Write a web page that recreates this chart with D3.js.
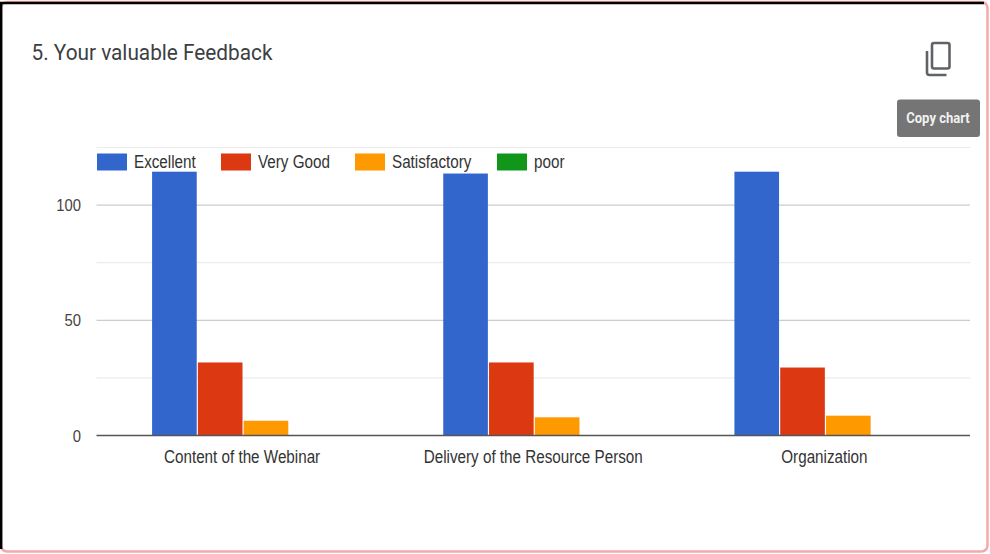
<!DOCTYPE html>
<html>
<head>
<meta charset="utf-8">
<script src="https://cdn.jsdelivr.net/npm/d3@7"></script>
<style>
  html, body { margin: 0; padding: 0; background: #fff; overflow: hidden; }
</style>
</head>
<body>
<div id="chart"></div>
<script>
// Values
var categories = ["Content of the Webinar", "Delivery of the Resource Person", "Organization"];
var seriesNames = ["Excellent", "Very Good", "Satisfactory", "poor"];
var seriesColors = ["#3366cc", "#dc3912", "#ff9900", "#109618"];
var excellent = [114.5, 113.7, 114.5];
var veryGood = [31.7, 31.7, 29.5];
var satisfactory = [6.4, 7.9, 8.6];
var poor = [0, 0, 0];
var seriesValues = [excellent, veryGood, satisfactory, poor];
var majorTicks = [0, 50, 100];
var minorTicks = [25, 75, 125];

function init() {
  var w = 990;
  var h = 554;
  var left = 96.5;
  var right = 970;
  var y0 = 435.5;
  // The screenshot squeezed its text sideways, so labels are drawn narrower than tall
  var squeeze = 0.87;

  var svg = d3.select("#chart")
    .append("svg")
    .attr("width", w)
    .attr("height", h)
    .style("display", "block");

  // Screenshot frame: pink on the right and bottom, black on the top and left
  svg.append("rect")
    .attr("x", 1).attr("y", 2)
    .attr("width", 986.5).attr("height", 549.5)
    .attr("rx", 6)
    .attr("fill", "#fff")
    .attr("stroke", "#f4a9a9")
    .attr("stroke-width", 2.5);
  svg.append("path")
    .attr("d", "M1.2,549V3H984")
    .attr("fill", "none")
    .attr("stroke", "#000")
    .attr("stroke-width", 2.4);

  // Scales
  var xScale = d3.scaleBand()
    .domain(categories)
    .range([left, right]);
  var xInner = d3.scaleBand()
    .domain(seriesNames)
    .range([0, 182])
    .paddingInner(0.025);
  var yScale = d3.scaleLinear()
    .domain([0, 125])
    .range([y0, 147.5]);

  // Gridlines
  svg.append("g").selectAll("line")
    .data(minorTicks)
    .enter()
    .append("line")
    .attr("x1", left).attr("x2", right)
    .attr("y1", function (d) { return yScale(d); })
    .attr("y2", function (d) { return yScale(d); })
    .attr("stroke", "#ebebeb")
    .attr("stroke-width", 1.2);
  svg.append("g").selectAll("line")
    .data(majorTicks.slice(1))
    .enter()
    .append("line")
    .attr("x1", left).attr("x2", right)
    .attr("y1", function (d) { return yScale(d); })
    .attr("y2", function (d) { return yScale(d); })
    .attr("stroke", "#cccccc")
    .attr("stroke-width", 1.2);

  // Bars
  var groupOffset = (xScale.bandwidth() - 182) / 2 + 1;
  seriesNames.forEach(function (name, i) {
    svg.append("g").selectAll("rect")
      .data(seriesValues[i])
      .enter()
      .append("rect")
      .attr("x", function (d, j) { return xScale(categories[j]) + groupOffset + xInner(name); })
      .attr("y", function (d) { return yScale(d); })
      .attr("width", xInner.bandwidth())
      .attr("height", function (d) { return y0 - yScale(d); })
      .attr("fill", seriesColors[i]);
  });

  // Baseline
  svg.append("line")
    .attr("x1", left).attr("x2", right)
    .attr("y1", y0).attr("y2", y0)
    .attr("stroke", "#555")
    .attr("stroke-width", 1.5);

  // Y tick labels
  svg.append("g").selectAll("text")
    .data(majorTicks)
    .enter()
    .append("text")
    .attr("transform", function (d) { return "translate(81," + (yScale(d) + 6) + ") scale(" + squeeze + ",1)"; })
    .attr("text-anchor", "end")
    .style("font-family", "'Liberation Sans', sans-serif")
    .style("font-size", "17px")
    .attr("fill", "#444")
    .text(function (d) { return d; });

  // X labels
  svg.append("g").selectAll("text")
    .data(categories)
    .enter()
    .append("text")
    .attr("transform", function (d) {
      return "translate(" + (xScale(d) + xScale.bandwidth() / 2) + ",462.5) scale(" + squeeze + ",1)";
    })
    .attr("text-anchor", "middle")
    .style("font-family", "'Liberation Sans', sans-serif")
    .style("font-size", "17.5px")
    .attr("fill", "#333")
    .text(function (d) { return d; });

  // Legend
  var legendX = [97, 221, 355, 497];
  var legend = svg.append("g").selectAll("g")
    .data(seriesNames)
    .enter()
    .append("g")
    .attr("transform", function (d, i) { return "translate(" + legendX[i] + ",153.5)"; });
  legend.append("rect")
    .attr("width", 30)
    .attr("height", 17)
    .attr("fill", function (d, i) { return seriesColors[i]; });
  legend.append("text")
    .attr("transform", "translate(37,14) scale(" + squeeze + ",1)")
    .style("font-family", "'Liberation Sans', sans-serif")
    .style("font-size", "17.5px")
    .attr("fill", "#333")
    .text(function (d) { return d; });

  // Title
  svg.append("text")
    .attr("transform", "translate(31.5,60) scale(0.945,1)")
    .style("font-family", "Roboto, sans-serif")
    .style("font-size", "22px")
    .attr("fill", "#3c4043")
    .text("5. Your valuable Feedback");

  // Copy icon
  var icon = svg.append("g")
    .attr("fill", "none")
    .attr("stroke", "#5f6368")
    .attr("stroke-width", 2.6);
  icon.append("rect")
    .attr("x", 932).attr("y", 43)
    .attr("width", 17.5).attr("height", 25.5)
    .attr("rx", 2);
  icon.append("path")
    .attr("d", "M927,51V72.5Q927,75 929.5,75H946.5");

  // Tooltip
  svg.append("rect")
    .attr("x", 897).attr("y", 99.5)
    .attr("width", 83).attr("height", 37.5)
    .attr("rx", 3)
    .attr("fill", "#757575");
  svg.append("text")
    .attr("transform", "translate(938,123) scale(0.9,1)")
    .attr("text-anchor", "middle")
    .style("font-family", "Roboto, sans-serif")
    .style("font-size", "14.5px")
    .style("font-weight", "bold")
    .attr("fill", "#f1f1f1")
    .text("Copy chart");
}
window.onload = init;
</script>
</body>
</html>
